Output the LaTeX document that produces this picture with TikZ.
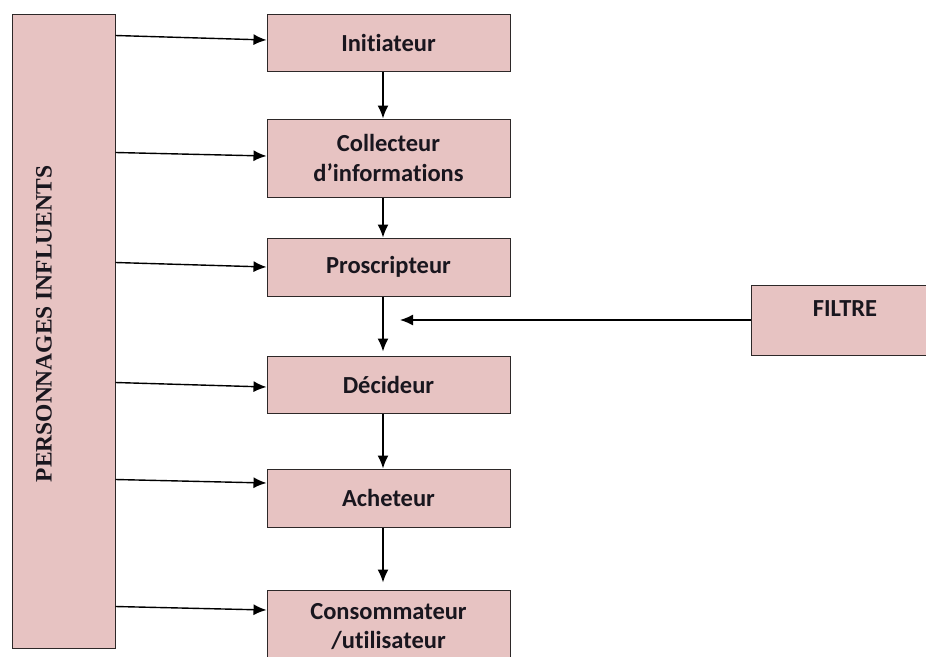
\documentclass[tikz,border=0pt]{standalone}
\usepackage{fontspec}
\setmainfont[Ligatures=NoCommon]{Carlito}
\newfontfamily\timesfont{Liberation Serif}
\usetikzlibrary{arrows.meta,calc}

\definecolor{rosefill}{RGB}{231,195,194}
\definecolor{boxline}{RGB}{45,40,40}
\definecolor{inktext}{RGB}{25,22,30}

\tikzset{
  rolefont/.style={text=inktext, font=\bfseries\fontsize{24.5}{29.5}\selectfont, align=center},
  rolebox/.style={draw=boxline, line width=1pt, fill=rosefill,
    minimum width=243pt, inner sep=0pt, rolefont},
  flow/.style={line width=1.4pt, -{Latex[length=13pt,width=11pt]}},
}

\begin{document}
\begin{tikzpicture}[x=1pt,y=-1pt]
  \useasboundingbox (0,0) rectangle (926,656);
  \clip (0,0) rectangle (926,656);

  % influential people column
  \node[draw=boxline, line width=1pt, fill=rosefill, minimum width=103pt,
        minimum height=634pt, inner sep=0pt] (pers) at (63.5,331) {};
  \node[rotate=90, text=inktext, font=\timesfont\bfseries\fontsize{23.5}{28}\selectfont]
        (perslabel) at (44,324) {PERSONNAGES INFLUENTS};

  % buying roles
  \node[rolebox, minimum height=57pt] (init) at (388.5,42.5) {Initiateur};
  \node[rolebox, minimum height=78pt] (coll) at (388.5,158) {Collecteur\\d’informations};
  \node[rolebox, minimum height=58pt] (pros) at (388.5,267) {Proscripteur};
  \node[rolebox, minimum height=57pt] (deci) at (388.5,384.5) {Décideur};
  \node[rolebox, minimum height=58pt] (ache) at (388.5,498) {Acheteur};
  \node[rolebox, minimum height=80pt] (cons) at (388.5,630) {};
  \node[rolefont] (constext) at (388.5,626.5) {Consommateur\\/utilisateur};

  % filter
  \node[draw=boxline, line width=1pt, fill=rosefill, minimum width=188pt,
        minimum height=70pt, inner sep=0pt] (filtre) at (845,320) {};
  \node[rolefont] (filtretext) at (845,309) {FILTRE};
  \coordinate (filtin) at (400,320);

  % chain of roles
  \draw[flow] ([xshift=-5.5pt]init.south) -- ([xshift=-5.5pt]coll.north);
  \draw[flow] ([xshift=-5.5pt]coll.south) -- ([xshift=-5.5pt]pros.north);
  \draw[flow] ([xshift=-5.5pt]pros.south) -- ([xshift=-5.5pt,yshift=4pt]deci.north);
  \draw[flow] ([xshift=-5.5pt]deci.south) -- ([xshift=-5.5pt]ache.north);
  \draw[flow] ([xshift=-5.5pt]ache.south) -- ([xshift=-5.5pt,yshift=7pt]cons.north);

  % filter acting between prescriber and decider
  \draw[flow] (filtre.west |- filtin) -- (filtin);

  % influence on each role
  \draw[flow] ($(pers.north east)+(0,22)$)  -- ($(init.west)+(0,-2.5)$);
  \draw[flow] ($(pers.north east)+(0,139)$) -- ($(coll.west)+(0,-2)$);
  \draw[flow] ($(pers.north east)+(0,249)$) -- (pros.west);
  \draw[flow] ($(pers.north east)+(0,369)$) -- ($(deci.west)+(0,2.5)$);
  \draw[flow] ($(pers.north east)+(0,466)$) -- ($(ache.west)+(0,-15)$);
  \draw[flow] ($(pers.north east)+(0,593)$) -- ($(cons.west)+(0,-20)$);
\end{tikzpicture}
\end{document}
